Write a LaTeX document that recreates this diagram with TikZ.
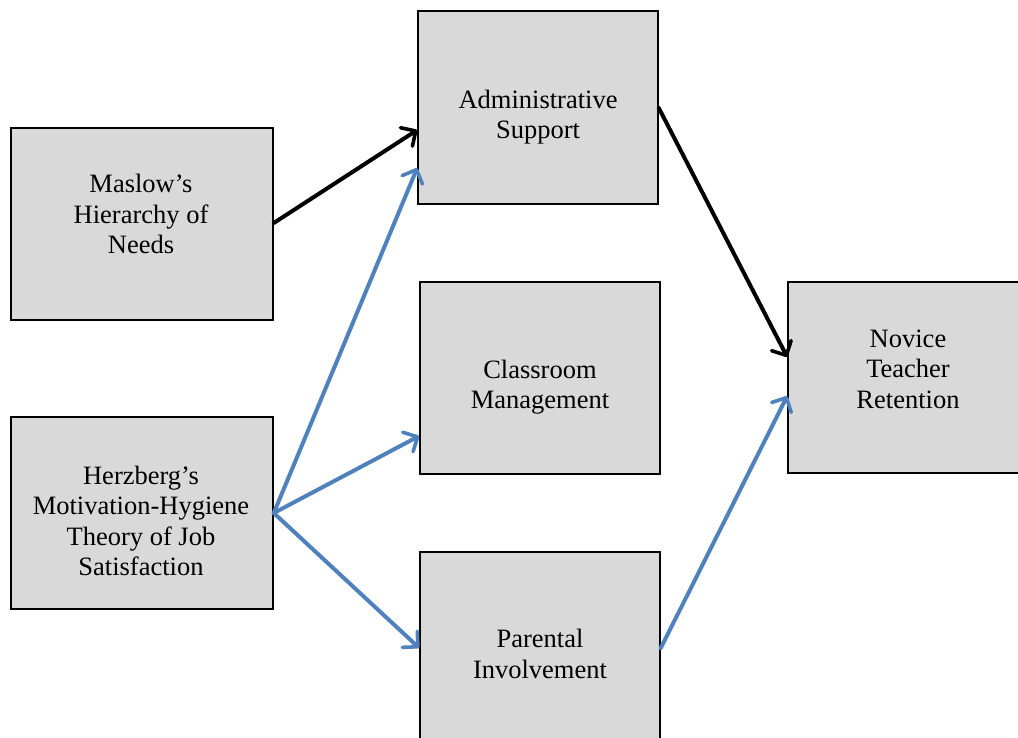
\documentclass[tikz,border=0pt]{standalone}
\usepackage{fontspec}
\setmainfont{Liberation Serif}
\usetikzlibrary{arrows.meta}
\definecolor{boxgrey}{HTML}{D9D9D9}
\definecolor{linkblue}{HTML}{4F81BD}
\begin{document}
\begin{tikzpicture}[x=1pt,y=-1pt,
  concept/.style={draw=black,fill=boxgrey,line width=1.6pt,inner sep=0pt},
  label/.style={align=center,font=\fontsize{26.5}{30.5}\selectfont,inner sep=0pt},
  link/.style={line width=4pt,line cap=round,
    -{Straight Barb[length=11pt,width=22pt,line width=3.6pt,round]}},
  blacklink/.style={link,draw=black},
  bluelink/.style={link,draw=linkblue}]
  \useasboundingbox (0,0) rectangle (1018,738);

  % concept boxes
  \node[concept,minimum width=262pt,minimum height=192pt] (maslow) at (142,224) {};
  \node[concept,minimum width=262pt,minimum height=192pt] (herz) at (142,513) {};
  \node[concept,minimum width=240pt,minimum height=193pt] (admin) at (538,107.5) {};
  \node[concept,minimum width=240pt,minimum height=192pt] (class) at (540,378) {};
  \node[concept,minimum width=240pt,minimum height=200pt] (parent) at (540,652) {};
  \node[concept,minimum width=240pt,minimum height=191pt] (novice) at (908,377.5) {};

  % box texts
  \node[label] (tmaslow) at (141,214) {Maslow’s\\Hierarchy of\\Needs};
  \node[label] (therz) at (141,521) {Herzberg’s\\Motivation-Hygiene\\Theory of Job\\Satisfaction};
  \node[label] (tadmin) at (538,117) {Administrative\\Support};
  \node[label] (tclass) at (540,387) {Classroom\\Management};
  \node[label] (tparent) at (540,654) {Parental\\Involvement};
  \node[label] (tnovice) at (908,369) {Novice\\Teacher\\Retention};

  % connectors
  \draw[blacklink] (maslow.east |- 0,223) -- (admin.west |- 0,130);
  \draw[bluelink] (herz.east |- 0,513) -- (admin.west |- 0,168);
  \draw[bluelink] (herz.east |- 0,513) -- (class.west |- 0,436);
  \draw[bluelink] (herz.east |- 0,513) -- (parent.west |- 0,648);
  \draw[blacklink] (admin.east |- 0,108) -- (novice.west |- 0,357);
  \draw[bluelink] (parent.east |- 0,648) -- (novice.west |- 0,396);
\end{tikzpicture}
\end{document}
